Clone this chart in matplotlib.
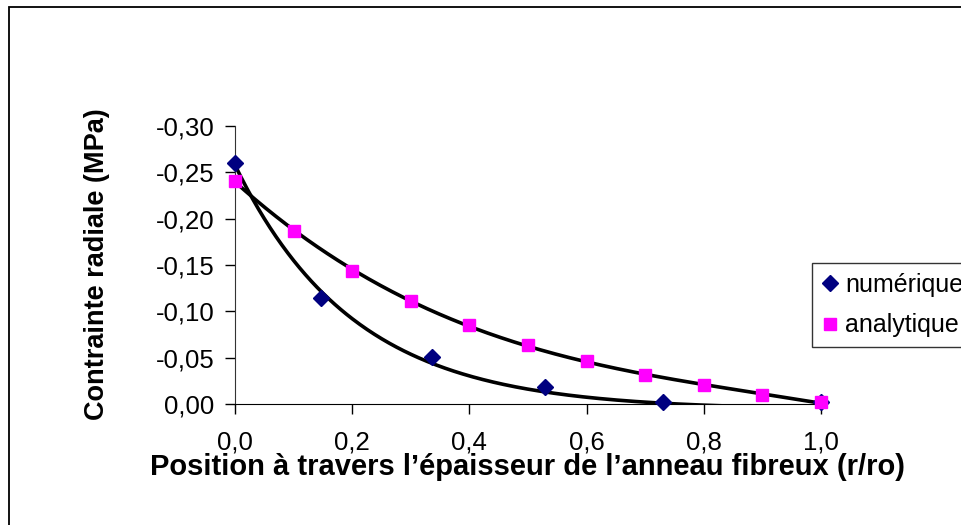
import numpy as np
import matplotlib.pyplot as plt
from matplotlib.patches import Rectangle
from matplotlib.ticker import FuncFormatter

plt.rcParams['font.family'] = ['Liberation Sans', 'DejaVu Sans']

# données (contrainte radiale en MPa)
x_num = [0.0, 0.147, 0.336, 0.529, 0.730, 1.0]
y_num = [-0.260, -0.114, -0.051, -0.018, -0.002, -0.002]

x_ana = [0.0, 0.1, 0.2, 0.3, 0.4, 0.5, 0.6, 0.7, 0.8, 0.9, 1.0]
y_ana = [-0.241, -0.187, -0.1435, -0.111, -0.085, -0.064, -0.046,
         -0.031, -0.0205, -0.0097, -0.002]

# la courbe de tendance numérique coupe l'axe vers r/ro = 0,755
x_zero_num = 0.755

x_ticks = [0.0, 0.2, 0.4, 0.6, 0.8, 1.0]
y_ticks = [0.0, -0.05, -0.10, -0.15, -0.20, -0.25, -0.30]

fig = plt.figure(figsize=(9.61, 5.25), dpi=100)
ax = fig.add_axes([0.2445, 0.2305, 0.6098, 0.5295])

xs = np.linspace(0, 1, 400)

# tendance numérique : y = A*(exp(-k x) - exp(-k x0)), ajustée sur les points jusqu'à 0,73
xn = np.array(x_num[:5])
yn = np.array(y_num[:5])
best = None
for k in np.linspace(0.5, 15, 1500):
    f = np.exp(-k * xn) - np.exp(-k * x_zero_num)
    A = np.dot(f, yn) / np.dot(f, f)
    err = np.sum((A * f - yn) ** 2)
    if best is None or err < best[0]:
        best = (err, k, A)
_, k_num, A_num = best
ax.plot(xs, A_num * (np.exp(-k_num * xs) - np.exp(-k_num * x_zero_num)),
        color='black', lw=2.6, zorder=2)

# tendance analytique : polynôme d'ordre 3
p_ana = np.polyfit(x_ana, y_ana, 3)
ax.plot(xs, np.polyval(p_ana, xs), color='black', lw=2.6, zorder=2)

ax.plot(x_num, y_num, 'D', color='#000080', markersize=8, ls='none',
        label='numérique', zorder=3, clip_on=False)
ax.plot(x_ana, y_ana, 's', color='#FF00FF', markersize=8, ls='none',
        label='analytique', zorder=4, clip_on=False)

ax.set_xlim(0, 1.0)
ax.set_ylim(0, -0.30)
ax.set_xticks(x_ticks)
ax.set_yticks(y_ticks)
ax.xaxis.set_major_formatter(FuncFormatter(lambda v, p: f"{v:.1f}".replace('.', ',')))
ax.yaxis.set_major_formatter(
    FuncFormatter(lambda v, p: "0,00" if abs(v) < 1e-9 else f"{v:.2f}".replace('.', ',')))
ax.tick_params(axis='both', direction='out', length=7, width=1, labelsize=18.5, colors='black')
ax.tick_params(axis='y', pad=8)
ax.tick_params(axis='x', pad=12)

ax.spines['top'].set_visible(False)
ax.spines['right'].set_visible(False)
ax.spines['left'].set_color('#333333')
ax.spines['bottom'].set_color('black')

fig.text(0.549, 0.110, "Position à travers l’épaisseur de l’anneau fibreux (r/ro)",
         ha='center', va='center', fontsize=21, fontweight='bold')
fig.text(0.101, 0.497, "Contrainte radiale (MPa)", rotation=90,
         ha='center', va='center', fontsize=19.5, fontweight='bold')

leg = fig.legend(loc='upper left', bbox_to_anchor=(0.845, 0.499), fontsize=18,
                 frameon=True, fancybox=False, handletextpad=0.28, handlelength=0.64,
                 borderpad=0.4, labelspacing=0.65, borderaxespad=0)
leg.get_frame().set_edgecolor('black')
leg.get_frame().set_linewidth(1.0)

# cadre extérieur du graphique
fig.patches.append(Rectangle((9 / 961, -0.1), 1.2, 1.1 - 7 / 525, transform=fig.transFigure,
                             fill=False, edgecolor='black', lw=1.3))

fig.savefig('out.png', dpi=100)
